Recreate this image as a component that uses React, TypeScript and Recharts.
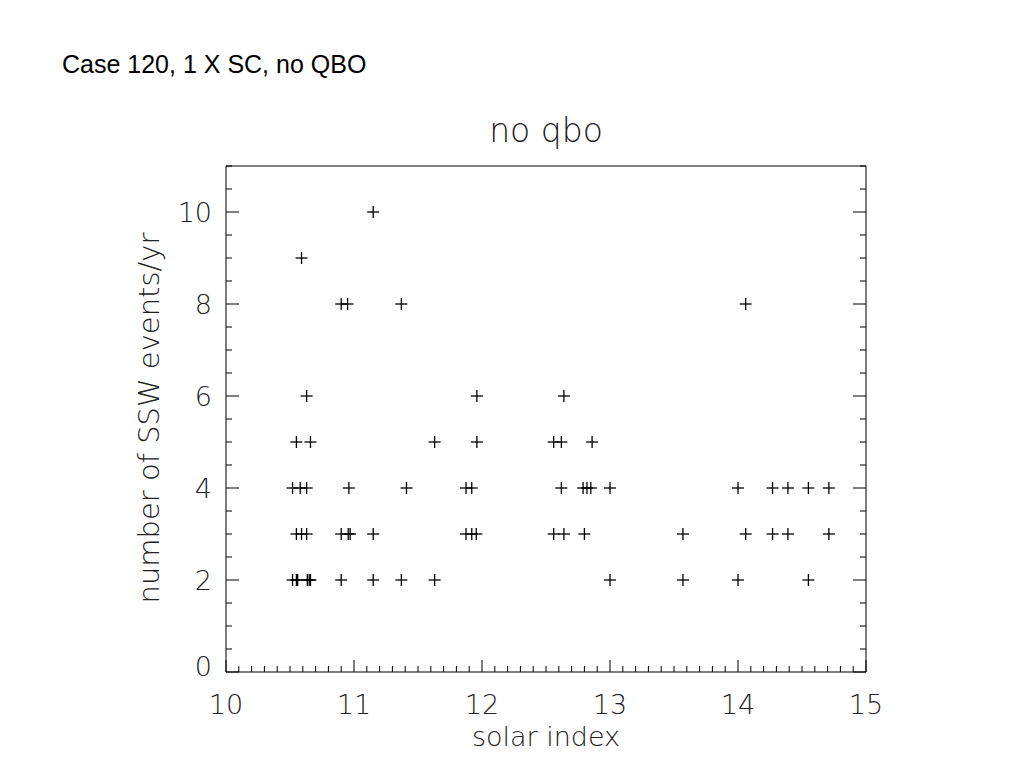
import React from 'react';
import { ScatterChart, Scatter, XAxis, YAxis } from 'recharts';

// solar index (x) and number of SSW events per year (y)
const solarIndex = [
    11.15,
    10.59,
    10.90, 10.95, 11.37, 14.06,
    10.63, 11.96, 12.64,
    10.55, 10.66, 11.63, 11.96, 12.56, 12.62, 12.86,
    10.52, 10.58, 10.63, 10.96, 11.41, 11.875, 11.92, 12.62, 12.79, 12.82, 12.85, 13.00, 14.00, 14.27, 14.39, 14.55, 14.71,
    10.55, 10.59, 10.63, 10.90, 10.955, 10.97, 11.15, 11.875, 11.92, 11.955, 12.56, 12.64, 12.80, 13.57, 14.06, 14.27, 14.39, 14.71,
    10.52, 10.55, 10.56, 10.635, 10.65, 10.66, 10.90, 11.15, 11.37, 11.63, 13.00, 13.57, 14.00, 14.55,
];
const sswEvents = [
    10,
    9,
    8, 8, 8, 8,
    6, 6, 6,
    5, 5, 5, 5, 5, 5, 5,
    4, 4, 4, 4, 4, 4, 4, 4, 4, 4, 4, 4, 4, 4, 4, 4, 4,
    3, 3, 3, 3, 3, 3, 3, 3, 3, 3, 3, 3, 3, 3, 3, 3, 3, 3,
    2, 2, 2, 2, 2, 2, 2, 2, 2, 2, 2, 2, 2, 2,
];

const xLabels = [10, 11, 12, 13, 14, 15];
const yLabels = [0, 2, 4, 6, 8, 10];

const points = solarIndex.map((x, i) => ({ x, y: sswEvents[i] }));

// minor ticks: 0.1 on x, 0.5 on y
const xTicks = Array.from({ length: 51 }, (_, i) => Math.round((10 + i / 10) * 10) / 10);
const yTicks = Array.from({ length: 23 }, (_, i) => i / 2);

const FONT = '"DejaVu Sans", sans-serif';
const INK = '#222';

const isLabel = (v: number, labels: number[]) => labels.some((l) => Math.abs(l - v) < 1e-6);

const BottomTick = (props: any) => {
    const { x, y, payload } = props;
    const major = isLabel(payload.value, xLabels);
    return (
        <g>
            <line x1={x} y1={y} x2={x} y2={y - (major ? 12 : 6)} stroke="#000" />
            {major && (
                <text x={x} y={y + 42} textAnchor="middle" fontSize={27} fontFamily={FONT} fontWeight={200} fill={INK}>
                    {payload.value}
                </text>
            )}
        </g>
    );
};

const TopTick = (props: any) => {
    const { x, y, payload } = props;
    const major = isLabel(payload.value, xLabels);
    return <line x1={x} y1={y} x2={x} y2={y + (major ? 12 : 6)} stroke="#000" />;
};

const LeftTick = (props: any) => {
    const { x, y, payload } = props;
    const major = isLabel(payload.value, yLabels);
    const v = payload.value;
    return (
        <g>
            <line x1={x} y1={y} x2={x + (major ? 13 : 6)} y2={y} stroke="#000" />
            {major && (
                <text x={x - 14} y={v === 0 ? y - 6 : y} dy="0.36em" textAnchor="end" fontSize={27} fontFamily={FONT} fontWeight={200} fill={INK}>
                    {v}
                </text>
            )}
        </g>
    );
};

const RightTick = (props: any) => {
    const { x, y, payload } = props;
    const major = isLabel(payload.value, yLabels);
    return <line x1={x} y1={y} x2={x - (major ? 13 : 6)} y2={y} stroke="#000" />;
};

const Plus = (props: any) => {
    const { cx, cy } = props;
    return (
        <g stroke="#000" strokeWidth={1.3}>
            <line x1={cx - 6} y1={cy} x2={cx + 6} y2={cy} />
            <line x1={cx} y1={cy - 6} x2={cx} y2={cy + 6} />
        </g>
    );
};

const XTitle = (props: any) => {
    const { viewBox } = props;
    return (
        <text x={viewBox.x + viewBox.width / 2} y={viewBox.y + 74} textAnchor="middle" fontSize={27} fontFamily={FONT} fontWeight={200} fill={INK}>
            solar index
        </text>
    );
};

const YTitle = (props: any) => {
    const { viewBox } = props;
    const cy = viewBox.y + viewBox.height / 2 - 1;
    return (
        <text x={159} y={cy} transform={`rotate(-90, 159, ${cy})`} textAnchor="middle" fontSize={29} fontFamily={FONT} fontWeight={200} fill={INK}>
            number of SSW events/yr
        </text>
    );
};

const TopTitle = (props: any) => {
    const { viewBox } = props;
    return (
        <text x={viewBox.x + viewBox.width / 2} y={viewBox.y - 14} textAnchor="middle" fontSize={33} fontFamily={FONT} fontWeight={200} fill={INK}>
            no qbo
        </text>
    );
};

export default function App() {
    return (
        <div style={{ position: 'absolute', left: 0, top: 0, width: 1024, height: 768, background: '#fff' }}>
            <div
                style={{
                    position: 'absolute',
                    left: 62,
                    top: 49,
                    fontFamily: '"Liberation Sans", Arial, sans-serif',
                    fontSize: 25,
                    lineHeight: '30px',
                    color: '#000',
                    whiteSpace: 'nowrap',
                }}
            >
                Case 120, 1 X SC, no QBO
            </div>
            <ScatterChart width={1024} height={768} margin={{ top: 156, right: 148, bottom: 66, left: 166 }}>
                <XAxis
                    xAxisId="bottom"
                    dataKey="x"
                    type="number"
                    domain={[10, 15]}
                    ticks={xTicks}
                    interval={0}
                    height={30}
                    tickSize={0}
                    tickMargin={0}
                    tickLine={false}
                    tick={<BottomTick />}
                    stroke="#000"
                    allowDataOverflow
                    label={<XTitle />}
                />
                <XAxis
                    xAxisId="top"
                    orientation="top"
                    type="number"
                    domain={[10, 15]}
                    ticks={xTicks}
                    interval={0}
                    height={10}
                    tickSize={0}
                    tickMargin={0}
                    tickLine={false}
                    tick={<TopTick />}
                    stroke="#000"
                    allowDataOverflow
                    label={<TopTitle />}
                />
                <YAxis
                    yAxisId="left"
                    dataKey="y"
                    type="number"
                    domain={[0, 11]}
                    ticks={yTicks}
                    interval={0}
                    width={60}
                    tickSize={0}
                    tickMargin={0}
                    tickLine={false}
                    tick={<LeftTick />}
                    stroke="#000"
                    allowDataOverflow
                    label={<YTitle />}
                />
                <YAxis
                    yAxisId="right"
                    orientation="right"
                    type="number"
                    domain={[0, 11]}
                    ticks={yTicks}
                    interval={0}
                    width={10}
                    tickSize={0}
                    tickMargin={0}
                    tickLine={false}
                    tick={<RightTick />}
                    stroke="#000"
                    allowDataOverflow
                />
                <Scatter
                    data={points}
                    xAxisId="bottom"
                    yAxisId="left"
                    shape={<Plus />}
                    isAnimationActive={false}
                />
            </ScatterChart>
        </div>
    );
}
